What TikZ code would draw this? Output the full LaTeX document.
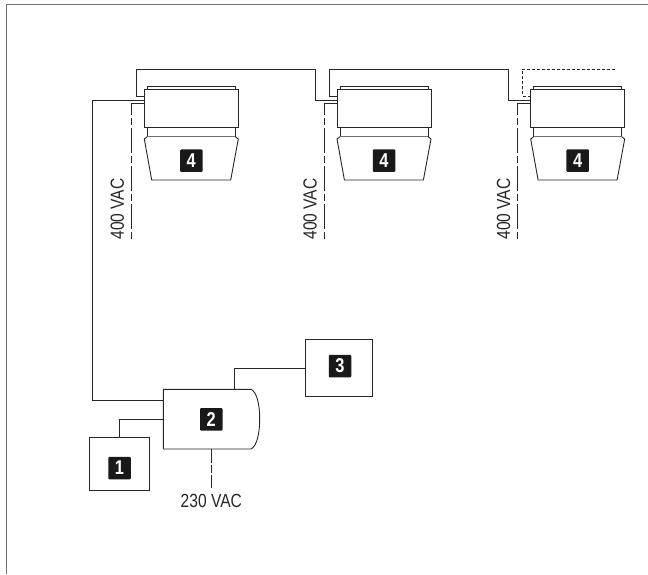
\documentclass[tikz,border=0pt]{standalone}
\usepackage{fontspec}
\setmainfont{Liberation Sans}
\newfontfamily\narrowfont[FakeStretch=0.82]{Liberation Sans}
\tikzset{
  wire/.style={draw=black!85, line width=0.9pt},
  mains/.style={draw=black!85, line width=0.8pt, dash pattern=on 25pt off 3pt on 7pt off 3pt},
  boxed/.style={draw=black!85, line width=0.9pt, fill=white},
  badge/.style={fill=black!90, text=white, rounded corners=1pt, minimum size=22.5pt, inner sep=0pt, font=\narrowfont\bfseries\fontsize{20}{20}\selectfont},
  volts/.style={font=\narrowfont\fontsize{19}{19}\selectfont, text=black!85, inner sep=0pt}
}
\newcommand{\fanunit}[3]{
  \draw[boxed] (#1+3, 86.7) rectangle (#1+91, 89.3);
  \draw[boxed] (#1, 89.3) rectangle (#1+94, 127.3);
  \draw[boxed] (#1+3, 127.3) rectangle (#1+91, 136.7);
  \draw[boxed] (#1+3, 136.7) -- (#1, 139) -- (#1+7.4, 180) -- (#1+86.4, 180) -- (#1+94, 139) -- (#1+91, 136.7);
  \node[badge] (#2) at (#1+47, 160.7) {4};
  \node[volts, rotate=90] (#3) at (#1-27, 209) {400 VAC};
}
\begin{document}
\begin{tikzpicture}[x=1pt, y=-1pt]
  \useasboundingbox (0, 0) rectangle (648, 574);
  % frame
  \draw[draw=black!55, line width=1.2pt] (648, 4.5) -- (6.5, 4.5) -- (6.5, 574);

  % solid and dotted runs along the top
  \draw[wire] (144.3, 96) -- (136, 96) -- (136, 69.3) -- (315, 69.3) -- (315, 100) -- (337, 100);
  \draw[wire] (337, 96) -- (329, 96) -- (329, 69.3) -- (508, 69.3) -- (508, 100) -- (530.7, 100);
  \draw[wire, densely dashed, line width=0.7pt] (530.7, 96) -- (522.3, 96) -- (522.3, 69.3) -- (617, 69.3);

  % mains feeds
  \draw[mains] (144.3, 103.3) -- (131, 103.3) -- (131, 240.7);
  \draw[mains] (337, 103.3) -- (324, 103.3) -- (324, 240.7);
  \draw[mains] (530.7, 103.3) -- (517.7, 103.3) -- (517.7, 240.7);

  \fanunit{144.3}{fanA}{voltA}
  \fanunit{337}{fanB}{voltB}
  \fanunit{530.7}{fanC}{voltC}

  % controller group
  \draw[boxed] (163.3, 389.3) -- (251, 389.3) .. controls (257, 392) and (259.7, 405) .. (259.7, 419) .. controls (259.7, 433) and (257, 446) .. (251, 449) -- (163.3, 449) -- cycle;
  \node[badge] (ctrl) at (211.3, 419.3) {2};

  \draw[boxed] (89, 437.7) rectangle (149.3, 490.7);
  \node[badge] (panel) at (119.5, 468) {1};

  \draw[boxed] (305.7, 339) rectangle (372, 396.7);
  \node[badge] (remote) at (340, 366) {3};

  \coordinate (ctrlW) at (163.3, 400);
  \coordinate (ctrlP) at (163.3, 419);
  \coordinate (ctrlR) at (234, 389.3);
  \coordinate (ctrlM) at (211.3, 449);
  \coordinate (panelN) at (119.3, 437.7);
  \coordinate (remoteW) at (305.7, 368);
  \coordinate (feedTop) at (144.3, 100);

  \draw[wire] (feedTop) -- (92.5, 100) -- (92.5, 400) -- (ctrlW);
  \draw[wire] (ctrlP) -- (119.3, 419) -- (panelN);
  \draw[wire] (ctrlR) -- (234, 368) -- (remoteW);
  \draw[draw=black!85, line width=0.8pt, dash pattern=on 14pt off 2pt on 8pt off 2pt] (ctrlM) -- (211.3, 488);

  \node[volts] (mainsB) at (211.3, 501) {230 VAC};
\end{tikzpicture}
\end{document}
